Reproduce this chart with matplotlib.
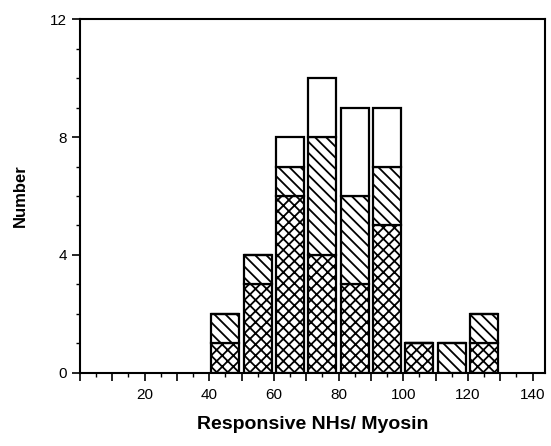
import numpy as np
import matplotlib
matplotlib.use('Agg')
import matplotlib.pyplot as plt
from matplotlib.ticker import MultipleLocator

plt.rcParams['font.family'] = ['Liberation Sans', 'DejaVu Sans']
plt.rcParams['hatch.linewidth'] = 1.3

# bin centres (10-unit bins) and stacked counts
centers = [45, 55, 65, 75, 85, 95, 105, 115, 125]
cross = [1, 3, 6, 4, 3, 5, 1, 0, 1]
diag = [1, 1, 1, 4, 3, 2, 0, 1, 1]
blank = [0, 0, 1, 2, 3, 2, 0, 0, 0]

fig = plt.figure(figsize=(5.51, 4.46), dpi=100)
ax = fig.add_axes([0.145, 0.164, 0.845, 0.793])

cross = np.array(cross)
diag = np.array(diag)
blank = np.array(blank)
w = 8.6
kw = dict(width=w, facecolor='white', edgecolor='black', linewidth=1.6)
ax.bar(centers, cross, hatch='xxx', **kw)
ax.bar(centers, diag, bottom=cross, hatch='\\\\\\', **kw)
ax.bar(centers, blank, bottom=cross + diag, **kw)

ax.set_xlim(0, 144)
ax.set_ylim(0, 12)
for s in ax.spines.values():
    s.set_linewidth(1.5)

ax.xaxis.set_major_locator(MultipleLocator(10))
ax.xaxis.set_minor_locator(MultipleLocator(5))
ax.set_xticklabels([str(int(v)) if v % 20 == 0 and v > 0 else '' for v in ax.get_xticks()])
ax.yaxis.set_major_locator(MultipleLocator(4))
ax.yaxis.set_minor_locator(MultipleLocator(1))
ax.tick_params(which='major', length=6, width=1.2, labelsize=11, direction='out')
ax.tick_params(which='minor', length=3, width=1.0, direction='out')
ax.tick_params(axis='x', pad=5)

ax.set_xlabel('Responsive NHs/ Myosin', fontsize=14, fontweight='bold', labelpad=10)
ax.set_ylabel('Number', fontsize=12, fontweight='bold', labelpad=16)

fig.savefig('out.png', dpi=100)
